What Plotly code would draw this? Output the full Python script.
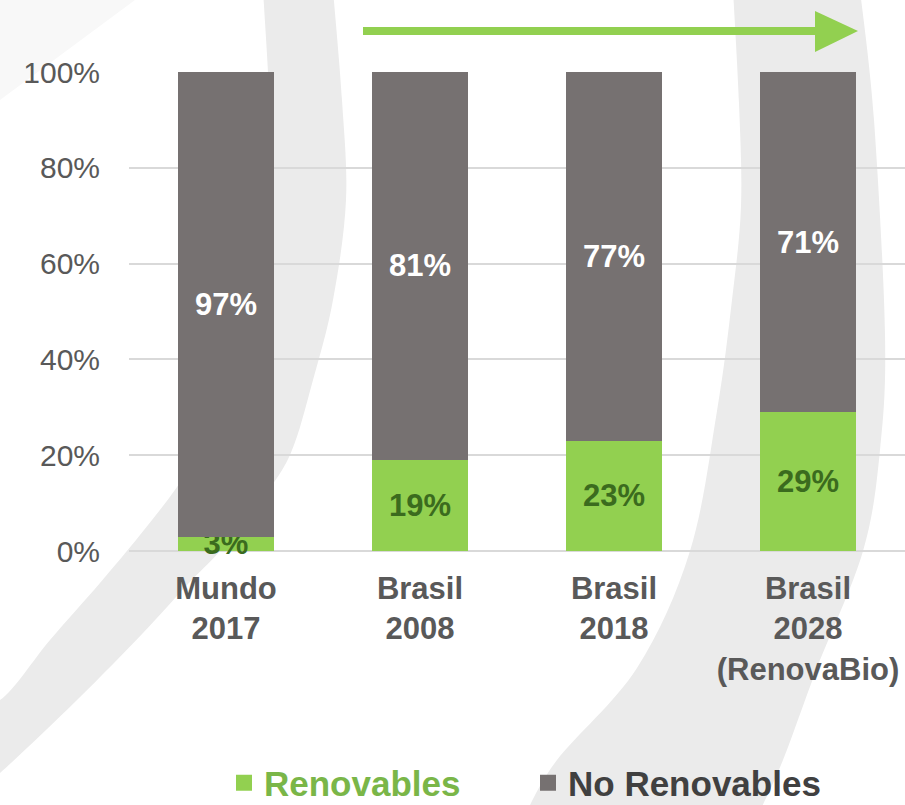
import plotly.graph_objects as go

# ---------------- data ----------------
categories = ["Mundo<br>2017", "Brasil<br>2008", "Brasil<br>2018", "Brasil<br>2028<br>(RenovaBio)"]
renovables = [3, 19, 23, 29]
no_renovables = [97, 81, 77, 71]
y_ticks = [0, 20, 40, 60, 80, 100]
y_tick_labels = ["0%", "20%", "40%", "60%", "80%", "100%"]
series_names = ["Renovables", "No Renovables"]

GREEN = "#92d050"
GRAY = "#767171"
DARK_GREEN = "#3b6b1e"
TEXT_GRAY = "#595959"
FONT = "Liberation Sans, Arial, sans-serif"

W, H = 905, 805
L, R, T, B = 129, 0, 72, 254
PW, PH = W - L - R, H - T - B


def p(x, y):
    return ((x - L) / PW, (H - B - y) / PH)


def fmt(pt):
    return f"{pt[0]:.5f},{pt[1]:.5f}"


def smooth(pts):
    """Catmull-Rom -> cubic bezier segments (pixel points), returns path pieces."""
    out = []
    n = len(pts)
    for i in range(n - 1):
        p0 = pts[i - 1] if i > 0 else pts[i]
        p1 = pts[i]
        p2 = pts[i + 1]
        p3 = pts[i + 2] if i + 2 < n else pts[i + 1]
        c1 = (p1[0] + (p2[0] - p0[0]) / 6, p1[1] + (p2[1] - p0[1]) / 6)
        c2 = (p2[0] - (p3[0] - p1[0]) / 6, p2[1] - (p3[1] - p1[1]) / 6)
        out.append(f"C{fmt(p(*c1))} {fmt(p(*c2))} {fmt(p(*p2))}")
    return out


def crescent(edge_a, edge_b):
    path = f"M{fmt(p(*edge_a[0]))} " + " ".join(smooth(edge_a))
    path += f" L{fmt(p(*edge_b[0]))} " + " ".join(smooth(edge_b)) + " Z"
    return path


left_a = [(333, -10), (342, 100), (346, 200), (333, 300), (313, 380), (290, 455), (257, 505),
          (220, 551), (187, 585), (143, 633), (77, 700), (0, 773), (-30, 795)]
left_b = [(-30, 690), (0, 700), (50, 640), (100, 583), (140, 535), (177, 487), (210, 435),
          (242, 365), (263, 280), (272, 180), (269, 90), (263, -10)]
right_a = [(860, -10), (874, 120), (885, 334), (880, 450), (863, 551), (817, 668), (783, 760),
           (758, 815)]
right_b = [(525, 815), (557, 760), (637, 668), (690, 551), (717, 411), (732, 300), (741, 206),
           (739, 103), (733, -10)]

shapes = [
    dict(type="path", xref="paper", yref="paper", layer="below",
         path=f"M{fmt(p(0, 0))} L{fmt(p(135, 0))} L{fmt(p(0, 100))} Z",
         fillcolor="#f8f8f8", line=dict(width=0)),
    dict(type="path", xref="paper", yref="paper", layer="below",
         path=crescent(left_a, left_b), fillcolor="#ebebeb", line=dict(width=0)),
    dict(type="path", xref="paper", yref="paper", layer="below",
         path=crescent(right_a, right_b), fillcolor="#ebebeb", line=dict(width=0)),
    # green arrow
    dict(type="line", xref="paper", yref="paper", layer="above",
         x0=p(363, 31)[0], y0=p(363, 31)[1], x1=p(820, 31)[0], y1=p(820, 31)[1],
         line=dict(color=GREEN, width=8)),
    dict(type="path", xref="paper", yref="paper", layer="above",
         path=f"M{fmt(p(815, 11))} L{fmt(p(858, 31))} L{fmt(p(815, 52))} Z",
         fillcolor=GREEN, line=dict(width=0)),
]

fig = go.Figure()
fig.add_trace(go.Bar(
    x=categories, y=renovables, name=series_names[0], marker=dict(color=GREEN, line=dict(width=0)),
    text=[f"{v}%" for v in renovables], textposition="inside", insidetextanchor="middle",
    textangle=0, constraintext="none", cliponaxis=False,
    textfont=dict(family=FONT, size=31, color=DARK_GREEN, weight="bold"),
    showlegend=False, hoverinfo="skip"))
fig.add_trace(go.Bar(
    x=categories, y=no_renovables, name=series_names[1], marker=dict(color=GRAY, line=dict(width=0)),
    text=[f"{v}%" for v in no_renovables], textposition="inside", insidetextanchor="middle",
    textangle=0, constraintext="none", cliponaxis=False,
    textfont=dict(family=FONT, size=31, color="white", weight="bold"),
    showlegend=False, hoverinfo="skip"))

# legend entries (square markers)
fig.add_trace(go.Scatter(x=[None], y=[None], mode="markers", name=f"<span style='color:#7ab648'>{series_names[0]}</span>",
                         marker=dict(symbol="square", size=18, color=GREEN)))
fig.add_trace(go.Scatter(x=[None], y=[None], mode="markers", name=f"<span style='color:#404040'>{series_names[1]}</span>",
                         marker=dict(symbol="square", size=18, color=GRAY)))

fig.update_layout(
    width=W, height=H,
    margin=dict(l=L, r=R, t=T, b=B, pad=0),
    barmode="stack", bargap=0.505,
    paper_bgcolor="white", plot_bgcolor="rgba(0,0,0,0)",
    font=dict(family=FONT, color=TEXT_GRAY),
    shapes=shapes,
    showlegend=True,
    legend=dict(orientation="h", xref="container", yref="container", traceorder="normal",
                x=224 / W, xanchor="left", y=(H - 783) / H, yanchor="middle",
                font=dict(family=FONT, size=35, weight="bold"),
                entrywidth=259, entrywidthmode="pixels",
                bgcolor="rgba(0,0,0,0)", itemsizing="trace"),
)
fig.update_xaxes(showgrid=False, showline=False, zeroline=False, ticks="",
                 tickfont=dict(family=FONT, size=31, color=TEXT_GRAY, weight="bold"),
                 ticklabelstandoff=16, fixedrange=True)
fig.update_yaxes(range=[0, 100], tickvals=y_ticks, ticktext=y_tick_labels,
                 showgrid=True, gridcolor="#d9d9d9", gridwidth=2,
                 zeroline=True, zerolinecolor="#d9d9d9", zerolinewidth=2,
                 showline=False, ticks="", ticklabelstandoff=28,
                 tickfont=dict(family=FONT, size=30, color=TEXT_GRAY), fixedrange=True)

fig.write_html("out.html", config={"displayModeBar": False},
               post_script="document.body.style.margin='0';document.body.style.overflow='hidden';")
